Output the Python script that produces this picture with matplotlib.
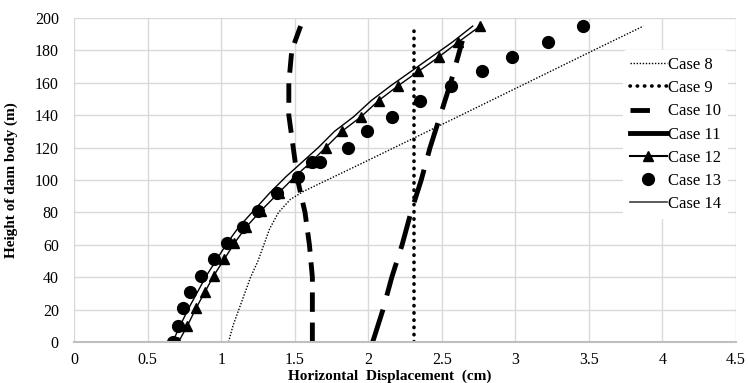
import matplotlib
matplotlib.use("Agg")
import matplotlib.pyplot as plt
from matplotlib.lines import Line2D

# heights (m) and horizontal displacement (cm)
h8 = [0, 10, 20, 30, 40, 50, 60, 70, 80, 88, 93, 110, 125, 140, 160, 180, 195]
x8 = [1.05, 1.08, 1.12, 1.16, 1.20, 1.25, 1.29, 1.33, 1.39, 1.47, 1.56, 1.95, 2.29, 2.63, 3.08, 3.53, 3.87]

h9 = [0, 195]
x9 = [2.31, 2.31]

h10 = [0, 20, 40, 60, 80, 100, 120, 140, 160, 180, 195]
x10 = [1.62, 1.62, 1.62, 1.60, 1.57, 1.52, 1.49, 1.46, 1.46, 1.48, 1.54]

h11 = [0, 20, 40, 60, 80, 100, 120, 140, 160, 186]
x11 = [2.03, 2.10, 2.16, 2.23, 2.29, 2.36, 2.42, 2.49, 2.56, 2.64]

h12 = [0, 10, 21, 31, 41, 51, 61, 71, 81, 92, 102, 111, 120, 130, 139, 149, 158, 167, 176, 185, 195]
x12 = [0.71, 0.77, 0.83, 0.89, 0.95, 1.02, 1.09, 1.17, 1.27, 1.39, 1.50, 1.61, 1.71, 1.82, 1.95, 2.07, 2.20, 2.34, 2.48, 2.61, 2.76]

h13 = [0, 10, 21, 31, 41, 51, 61, 71, 81, 92, 102, 111, 111, 120, 130, 139, 149, 158, 167, 176, 185, 195]
x13 = [0.67, 0.71, 0.74, 0.79, 0.86, 0.95, 1.04, 1.15, 1.25, 1.38, 1.52, 1.62, 1.67, 1.86, 1.99, 2.16, 2.35, 2.56, 2.77, 2.98, 3.22, 3.46]

h14 = [0, 10, 21, 31, 41, 51, 61, 71, 81, 92, 102, 111, 120, 130, 139, 149, 158, 167, 176, 185, 195]
x14 = [0.67, 0.72, 0.78, 0.84, 0.90, 0.97, 1.04, 1.12, 1.22, 1.33, 1.44, 1.55, 1.66, 1.77, 1.90, 2.02, 2.15, 2.29, 2.43, 2.57, 2.71]

xticks = [0, 0.5, 1, 1.5, 2, 2.5, 3, 3.5, 4, 4.5]
xticklabels = ["0", "0.5", "1", "1.5", "2", "2.5", "3", "3.5", "4", "4.5"]
yticks = [0, 20, 40, 60, 80, 100, 120, 140, 160, 180, 200]
labels = ['Case 8', 'Case 9', 'Case 10', 'Case 11', 'Case 12', 'Case 13', 'Case 14']

plt.rcParams['font.family'] = ['Liberation Serif', 'DejaVu Serif']

fig = plt.figure(figsize=(7.48, 3.83), dpi=100)
ax = fig.add_axes([0.099, 0.107, 0.885, 0.846])

ax.plot(x8, h8, color='black', lw=1.0, ls=(0, (1, 1.2)))
ax.plot(x9, h9, color='black', lw=2.6, ls=(0, (0.1, 1.9)), dash_capstyle='round')
ax.plot(x10, h10, color='black', lw=3.5, ls=(0, (4, 2.2)))
ax.plot(x11, h11, color='black', lw=3.5, ls=(0, (7, 3)))
ax.plot(x14, h14, color='black', lw=1.0)
ax.plot(x12, h12, color='black', lw=1.0, marker='^', ms=6.5)
ax.plot(x13, h13, color='black', lw=0, marker='o', ms=8.5)

ax.set_xlim(0, 4.5)
ax.set_ylim(0, 200)
ax.set_xticks(xticks)
ax.set_xticklabels(xticklabels)
ax.set_yticks(yticks)
ax.grid(True, color='#d9d9d9', lw=1.0)
ax.set_axisbelow(True)
for s in ['top', 'right', 'left']:
    ax.spines[s].set_visible(False)
ax.spines['bottom'].set_color('#bfbfbf')
ax.spines['bottom'].set_linewidth(1.5)
ax.tick_params(length=0, labelsize=11.5)
ax.tick_params(axis='x', pad=7.5)
ax.tick_params(axis='y', pad=11)

ax.set_xlabel('Horizontal  Displacement  (cm)', fontsize=11, fontweight='bold')
ax.xaxis.set_label_coords(0.477, -0.084)
ax.set_ylabel('Height of dam body (m)', fontsize=11, fontweight='bold')
ax.yaxis.set_label_coords(-0.085, 0.5)

handles = [
    Line2D([], [], color='black', lw=1.0, ls=(0, (1, 1.2))),
    Line2D([], [], color='black', lw=2.6, ls=(0, (0.1, 1.9)), dash_capstyle='round'),
    Line2D([], [], color='black', lw=3.5, ls=(0, (4, 10))),
    Line2D([], [], color='black', lw=3.5),
    Line2D([], [], color='black', lw=1.5, marker='^', ms=6.5),
    Line2D([], [], color='black', lw=0, marker='o', ms=8.5),
    Line2D([], [], color='#404040', lw=1.2),
]
leg = ax.legend(handles, labels, loc='upper left', bbox_to_anchor=(0.83, 0.9),
                frameon=True, fontsize=12, handlelength=2.2, handletextpad=0.1,
                labelspacing=0.43, borderpad=0.4, borderaxespad=0)
leg.get_frame().set_edgecolor('none')
leg.get_frame().set_facecolor('white')
leg.get_frame().set_alpha(1.0)

fig.savefig('out.png', dpi=100)
